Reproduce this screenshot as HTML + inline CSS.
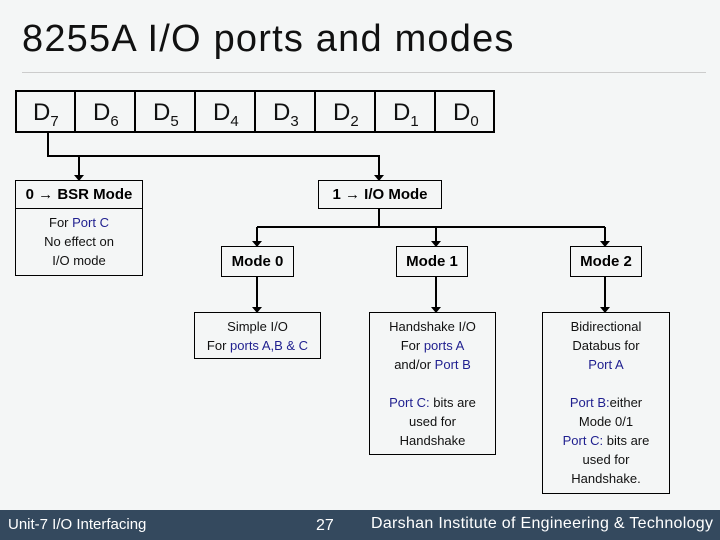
<!DOCTYPE html>
<html><head><style>
body{margin:0;width:720px;height:540px;background:#f4f6f6;font-family:"Liberation Sans",sans-serif;position:relative;overflow:hidden}
.a{position:absolute}
.b{position:absolute;border:1px solid #000;box-sizing:border-box;text-align:center;background:#f4f6f6}
.bl{color:#1f1f8f}
.t{font-size:13px;line-height:19px;color:#111}
.h{font-weight:bold;font-size:15px;line-height:28px}
</style></head><body>
<div class="a" style="left:22px;top:18px;font-size:38px;color:#111;letter-spacing:1.2px">8255A I/O ports and modes</div>
<div class="a" style="left:22px;top:72px;width:684px;height:1px;background:#ccc"></div>
<div class="b" style="left:15px;top:90px;width:480px;height:43px;border-width:2px"></div>
<svg class="a" style="left:0;top:0" width="720" height="540">
<g stroke="#000" stroke-width="2" fill="none">
<path d="M75 90V133M135 90V133M195 90V133M255 90V133M315 90V133M375 90V133M435 90V133"/>
<path d="M48 133V156H379V176M79 156V176M379 208V227M257 227H605M257 227V242M436 227V242M605 227V242M257 276V308M436 276V308M605 276V308"/>
</g>
<g fill="#000">
<path d="M74 175h10l-5 6zM374 175h10l-5 6zM252 241h10l-5 6zM431 241h10l-5 6zM600 241h10l-5 6zM252 307h10l-5 6zM431 307h10l-5 6zM600 307h10l-5 6z"/>
</g>
<g font-size="24" font-family="Liberation Sans" fill="#111">
<text x="33" y="120">D<tspan font-size="15" dy="6">7</tspan></text>
<text x="93" y="120">D<tspan font-size="15" dy="6">6</tspan></text>
<text x="153" y="120">D<tspan font-size="15" dy="6">5</tspan></text>
<text x="213" y="120">D<tspan font-size="15" dy="6">4</tspan></text>
<text x="273" y="120">D<tspan font-size="15" dy="6">3</tspan></text>
<text x="333" y="120">D<tspan font-size="15" dy="6">2</tspan></text>
<text x="393" y="120">D<tspan font-size="15" dy="6">1</tspan></text>
<text x="453" y="120">D<tspan font-size="15" dy="6">0</tspan></text>
</g>
</svg>
<div class="b h" style="left:15px;top:180px;width:128px;height:29px">0 → BSR Mode</div>
<div class="b t" style="left:15px;top:208px;width:128px;height:68px;padding-top:4px">For <span class="bl">Port C</span><br>No effect on<br>I/O mode</div>
<div class="b h" style="left:318px;top:180px;width:124px;height:29px">1 → I/O Mode</div>
<div class="b h" style="left:221px;top:246px;width:73px;height:31px;line-height:29px">Mode 0</div>
<div class="b h" style="left:396px;top:246px;width:72px;height:31px;line-height:29px">Mode 1</div>
<div class="b h" style="left:570px;top:246px;width:72px;height:31px;line-height:29px">Mode 2</div>
<div class="b t" style="left:194px;top:312px;width:127px;height:47px;padding-top:4px">Simple I/O<br>For <span class="bl">ports A,B &amp; C</span></div>
<div class="b t" style="left:369px;top:312px;width:127px;height:143px;padding-top:4px">Handshake I/O<br>For <span class="bl">ports A</span><br>and/or <span class="bl">Port B</span><br><br><span class="bl">Port C:</span> bits are<br>used for<br>Handshake</div>
<div class="b t" style="left:542px;top:312px;width:128px;height:182px;padding-top:4px">Bidirectional<br>Databus for<br><span class="bl">Port A</span><br><br><span class="bl">Port B:</span>either<br>Mode 0/1<br><span class="bl">Port C:</span> bits are<br>used for<br>Handshake.</div>
<div class="a" style="left:0;top:510px;width:720px;height:30px;background:#34495e;color:#fff">
<div class="a" style="left:8px;top:6px;font-size:15px">Unit-7 I/O Interfacing</div>
<div class="a" style="left:316px;top:7px;font-size:16px">27</div>
<div class="a" style="left:371px;top:5px;font-size:16px;letter-spacing:0.3px">Darshan Institute of Engineering &amp; Technology</div>
</div>
</body></html>
